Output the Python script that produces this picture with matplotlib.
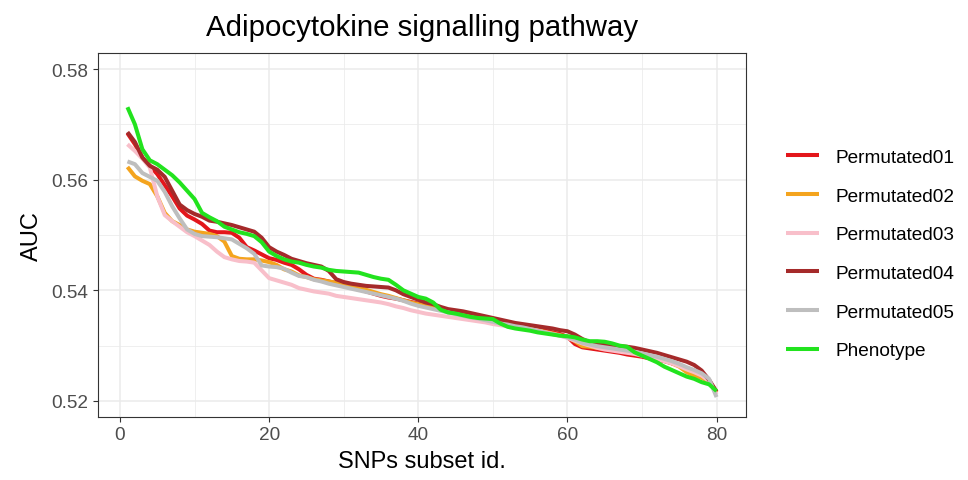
import matplotlib
matplotlib.use('Agg')
import matplotlib.pyplot as plt
from matplotlib.ticker import MultipleLocator

plt.rcParams['font.family'] = ['Liberation Sans', 'DejaVu Sans']

# subset ids 1..80
snp_ids = list(range(1, 81))

perm01 = [0.5684, 0.5664, 0.5640, 0.5625, 0.5610, 0.5590, 0.5570, 0.5548, 0.5535, 0.5528,
          0.5520, 0.5508, 0.5505, 0.5505, 0.5504, 0.5495, 0.5478, 0.5472, 0.5465, 0.5458,
          0.5455, 0.5450, 0.5446, 0.5438, 0.5428, 0.5421, 0.5419, 0.5416, 0.5413, 0.5410,
          0.5406, 0.5402, 0.5398, 0.5394, 0.5390, 0.5387, 0.5385, 0.5382, 0.5379, 0.5376,
          0.5373, 0.5370, 0.5367, 0.5364, 0.5361, 0.5358, 0.5355, 0.5352, 0.5350, 0.5347,
          0.5345, 0.5342, 0.5339, 0.5336, 0.5333, 0.5330, 0.5327, 0.5324, 0.5321, 0.5316,
          0.5303, 0.5297, 0.5295, 0.5293, 0.5291, 0.5289, 0.5287, 0.5284, 0.5282, 0.5280,
          0.5277, 0.5275, 0.5272, 0.5268, 0.5264, 0.5259, 0.5253, 0.5246, 0.5236, 0.5216]

perm02 = [0.5623, 0.5606, 0.5598, 0.5592, 0.5570, 0.5540, 0.5525, 0.5518, 0.5510, 0.5506,
          0.5504, 0.5502, 0.5498, 0.5488, 0.5462, 0.5457, 0.5456, 0.5456, 0.5454, 0.5451,
          0.5446, 0.5438, 0.5434, 0.5427, 0.5424, 0.5420, 0.5418, 0.5416, 0.5414, 0.5411,
          0.5408, 0.5405, 0.5401, 0.5397, 0.5393, 0.5390, 0.5386, 0.5382, 0.5378, 0.5375,
          0.5372, 0.5369, 0.5365, 0.5362, 0.5359, 0.5356, 0.5354, 0.5351, 0.5349, 0.5346,
          0.5343, 0.5340, 0.5337, 0.5334, 0.5331, 0.5328, 0.5325, 0.5322, 0.5319, 0.5316,
          0.5308, 0.5299, 0.5298, 0.5296, 0.5294, 0.5293, 0.5291, 0.5289, 0.5287, 0.5284,
          0.5281, 0.5278, 0.5273, 0.5268, 0.5262, 0.5252, 0.5246, 0.5242, 0.5235, 0.5215]

perm03 = [0.5664, 0.5652, 0.5638, 0.5622, 0.5570, 0.5536, 0.5525, 0.5515, 0.5505, 0.5498,
          0.5490, 0.5482, 0.5470, 0.5460, 0.5456, 0.5453, 0.5452, 0.5450, 0.5436, 0.5422,
          0.5418, 0.5414, 0.5410, 0.5404, 0.5401, 0.5398, 0.5396, 0.5394, 0.5390, 0.5388,
          0.5386, 0.5384, 0.5382, 0.5380, 0.5378, 0.5375, 0.5371, 0.5368, 0.5364, 0.5361,
          0.5358, 0.5356, 0.5354, 0.5352, 0.5350, 0.5348, 0.5346, 0.5344, 0.5342, 0.5339,
          0.5337, 0.5335, 0.5333, 0.5331, 0.5329, 0.5327, 0.5324, 0.5321, 0.5318, 0.5314,
          0.5309, 0.5304, 0.5300, 0.5296, 0.5293, 0.5291, 0.5289, 0.5287, 0.5285, 0.5282,
          0.5279, 0.5276, 0.5272, 0.5268, 0.5263, 0.5257, 0.5252, 0.5246, 0.5236, 0.5212]

perm04 = [0.5686, 0.5668, 0.5640, 0.5625, 0.5618, 0.5605, 0.5580, 0.5555, 0.5545, 0.5538,
          0.5533, 0.5526, 0.5524, 0.5521, 0.5518, 0.5514, 0.5510, 0.5506, 0.5495, 0.5478,
          0.5470, 0.5464, 0.5457, 0.5453, 0.5449, 0.5446, 0.5443, 0.5435, 0.5420, 0.5415,
          0.5412, 0.5410, 0.5408, 0.5407, 0.5406, 0.5405, 0.5400, 0.5393, 0.5388, 0.5383,
          0.5378, 0.5375, 0.5370, 0.5366, 0.5364, 0.5362, 0.5359, 0.5356, 0.5353, 0.5350,
          0.5347, 0.5344, 0.5341, 0.5339, 0.5337, 0.5335, 0.5333, 0.5331, 0.5328, 0.5326,
          0.5320, 0.5312, 0.5306, 0.5303, 0.5301, 0.5300, 0.5299, 0.5298, 0.5296, 0.5293,
          0.5290, 0.5287, 0.5283, 0.5279, 0.5275, 0.5271, 0.5265, 0.5255, 0.5238, 0.5217]

perm05 = [0.5633, 0.5628, 0.5612, 0.5605, 0.5598, 0.5578, 0.5552, 0.5530, 0.5510, 0.5502,
          0.5498, 0.5497, 0.5496, 0.5494, 0.5492, 0.5484, 0.5476, 0.5466, 0.5445, 0.5443,
          0.5442, 0.5439, 0.5432, 0.5426, 0.5424, 0.5419, 0.5416, 0.5412, 0.5409, 0.5406,
          0.5403, 0.5400, 0.5397, 0.5394, 0.5391, 0.5388, 0.5385, 0.5381, 0.5376, 0.5372,
          0.5369, 0.5366, 0.5363, 0.5360, 0.5357, 0.5354, 0.5351, 0.5349, 0.5346, 0.5343,
          0.5340, 0.5338, 0.5335, 0.5333, 0.5330, 0.5327, 0.5324, 0.5321, 0.5318, 0.5315,
          0.5311, 0.5305, 0.5302, 0.5299, 0.5297, 0.5295, 0.5293, 0.5291, 0.5289, 0.5286,
          0.5283, 0.5280, 0.5276, 0.5272, 0.5267, 0.5261, 0.5256, 0.5250, 0.5240, 0.5207]

phenotype = [0.5731, 0.5700, 0.5655, 0.5635, 0.5628, 0.5618, 0.5608, 0.5595, 0.5580, 0.5565,
             0.5540, 0.5532, 0.5525, 0.5515, 0.5510, 0.5505, 0.5502, 0.5498, 0.5487, 0.5470,
             0.5462, 0.5456, 0.5452, 0.5450, 0.5446, 0.5443, 0.5441, 0.5437, 0.5435, 0.5434,
             0.5433, 0.5432, 0.5428, 0.5424, 0.5421, 0.5419, 0.5410, 0.5400, 0.5394, 0.5388,
             0.5385, 0.5378, 0.5365, 0.5360, 0.5358, 0.5355, 0.5352, 0.5350, 0.5349, 0.5348,
             0.5340, 0.5334, 0.5331, 0.5329, 0.5327, 0.5324, 0.5322, 0.5320, 0.5318, 0.5317,
             0.5315, 0.5311, 0.5308, 0.5308, 0.5307, 0.5304, 0.5300, 0.5298, 0.5288, 0.5282,
             0.5276, 0.5270, 0.5262, 0.5256, 0.5250, 0.5244, 0.5240, 0.5234, 0.5230, 0.5218]

labels = ['Permutated01', 'Permutated02', 'Permutated03', 'Permutated04', 'Permutated05', 'Phenotype']
colors = ['#E3161B', '#F4A41E', '#F8BFCA', '#A52A2A', '#BEBEBE', '#22E31E']
series = [perm01, perm02, perm03, perm04, perm05, phenotype]

fig = plt.figure(figsize=(9.68, 4.81), dpi=100)
ax = fig.add_axes([98 / 968, 63 / 481, 648 / 968, 364 / 481])

for vals, lab, col in zip(series, labels, colors):
    ax.plot(snp_ids, vals, color=col, lw=2.9, label=lab, solid_capstyle='butt')

ax.set_xlim(-2.95, 83.95)
ax.set_ylim(0.5171, 0.5829)
ax.xaxis.set_major_locator(MultipleLocator(20))
ax.xaxis.set_minor_locator(MultipleLocator(10))
ax.yaxis.set_minor_locator(MultipleLocator(0.01))
ax.set_yticks([0.52, 0.54, 0.56, 0.58])
ax.set_yticklabels(['0.52', '0.54', '0.56', '0.58'])

ax.grid(which='major', color='#EBEBEB', lw=1.1)
ax.grid(which='minor', color='#EBEBEB', lw=0.55)
ax.set_axisbelow(True)
for s in ax.spines.values():
    s.set_color('#333333')
    s.set_linewidth(0.8)
ax.tick_params(which='major', length=3.8, width=0.8, color='#333333',
               labelsize=13.7, labelcolor='#4D4D4D', pad=3)
ax.tick_params(which='minor', length=0)

ax.set_xlabel('SNPs subset id.', fontsize=17, color='black', labelpad=5)
ax.set_ylabel('AUC', fontsize=17, color='black', labelpad=6)
ax.set_title('Adipocytokine signalling pathway', fontsize=21.2, color='black', pad=13)

fig.legend(loc='center left', bbox_to_anchor=(778 / 968, 1 - 255 / 481), frameon=False,
           fontsize=13.7, handlelength=1.75, handletextpad=0.85, labelspacing=1.12,
           borderaxespad=0)

fig.savefig('out.png', dpi=100)
